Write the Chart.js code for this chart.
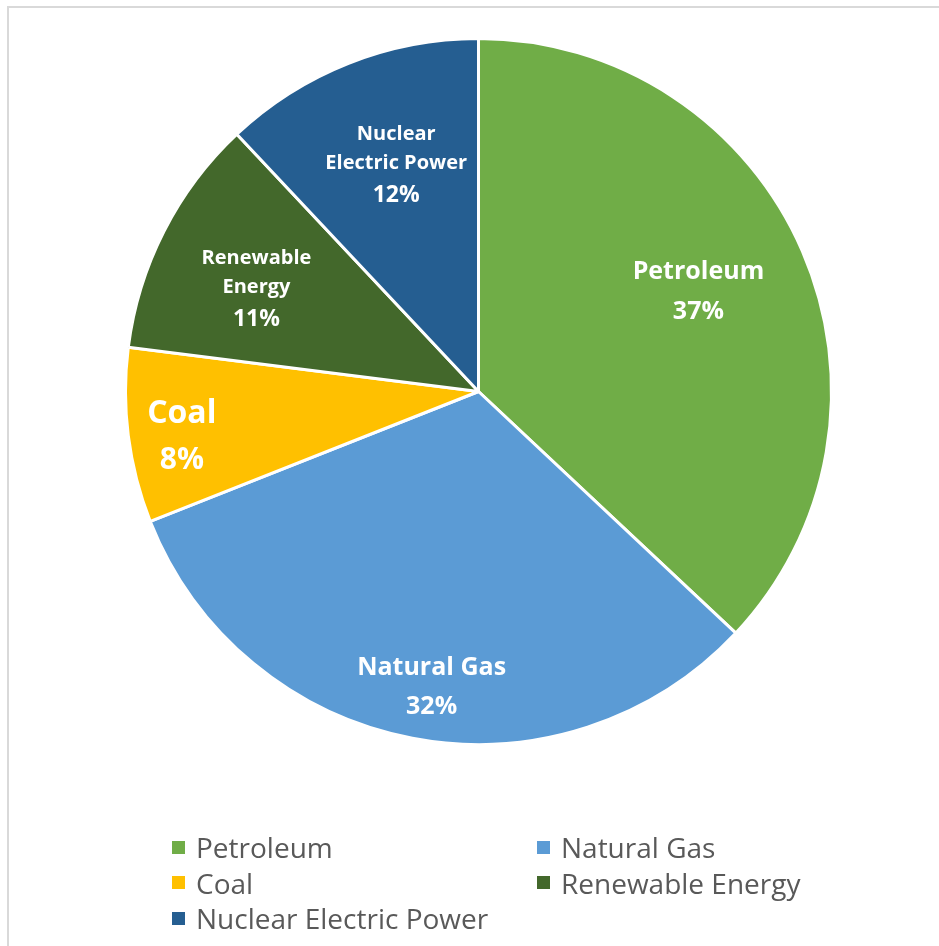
<!DOCTYPE html>
<html>
<head>
<meta charset="utf-8">
<script src="https://cdn.jsdelivr.net/npm/chart.js@4"></script>
<style>
  html, body { margin: 0; padding: 0; background: #fff; }
  body { width: 939px; height: 946px; overflow: hidden; position: relative; }
  #frame {
    position: absolute; left: 7px; top: 6px;
    width: 1000px; height: 1000px;
    border: 2px solid #d9d9d9; box-sizing: border-box;
  }
  #wrap { position: absolute; left: 0; top: 0; width: 939px; height: 946px; }
  #legend {
    position: absolute; left: 172px; top: 828px;
    font-family: "Open Sans", sans-serif; font-size: 28px; color: #595959;
  }
  .item { position: absolute; white-space: nowrap; display: flex; align-items: center; height: 38px; }
  .box { width: 13px; height: 13px; margin-right: 11px; }
</style>
</head>
<body>
<div id="frame"></div>
<div id="wrap"><canvas id="chart_one"></canvas></div>
<div id="legend"></div>
<script>
// energy sources, share of total consumption (%)
const sources = ["Petroleum", "Natural Gas", "Coal", "Renewable Energy", "Nuclear Electric Power"];
const shares = [37, 32, 8, 11, 12];
const colors = ["#70ad47", "#5b9bd5", "#ffc000", "#43682b", "#255e91"];
// how each slice name is broken over lines inside the pie
const sliceLines = [["Petroleum"], ["Natural Gas"], ["Coal"], ["Renewable", "Energy"], ["Nuclear", "Electric Power"]];

// label placement: fraction of radius, nudge, name font size, percent font size, line steps
const labelStyle = [
    { frac: 0.685, dx: -2, dy: -4, size: 25, pctSize: 25, steps: [40] },
    { frac: 0.845, dx: 9, dy: 3, size: 25, pctSize: 25, steps: [39] },
    { frac: 0.85, dx: 1, dy: 8, size: 32, pctSize: 30, steps: [46] },
    { frac: 0.69, dx: -5, dy: 8, size: 20, pctSize: 23, steps: [29, 33] },
    { frac: 0.687, dx: 7, dy: -1, size: 20, pctSize: 23, steps: [29, 32] }
];

const sliceLabels = {
    id: "sliceLabels",
    afterDatasetsDraw(chart) {
        const ctx = chart.ctx;
        const arcs = chart.getDatasetMeta(0).data;
        arcs.forEach((arc, i) => {
            const p = arc.getProps(["x", "y", "startAngle", "endAngle", "outerRadius"], true);
            const mid = (p.startAngle + p.endAngle) / 2;
            const st = labelStyle[i];
            const cx = p.x + Math.cos(mid) * p.outerRadius * st.frac + st.dx;
            const cy = p.y + Math.sin(mid) * p.outerRadius * st.frac + st.dy;

            let lines = sliceLines[i].map(t => ({ text: t, size: st.size }));
            lines.push({ text: shares[i] + "%", size: st.pctSize });

            let total = st.steps.reduce((a, b) => a + b, 0);
            let y = cy - total / 2;

            ctx.save();
            ctx.fillStyle = "#ffffff";
            ctx.textAlign = "center";
            ctx.textBaseline = "middle";
            lines.forEach((ln, k) => {
                ctx.font = "bold " + ln.size + "px 'Open Sans'";
                ctx.fillText(ln.text, cx, y);
                if (k < st.steps.length) y += st.steps[k];
            });
            ctx.restore();
        });
    }
};

var ChartOne = new Chart("chart_one", {
    type: "pie",
    data: {
        labels: sources,
        datasets: [{
            data: shares,
            backgroundColor: colors,
            borderColor: "#ffffff",
            borderWidth: 3,
            hoverOffset: 0
        }]
    },
    options: {
        responsive: true,
        maintainAspectRatio: false,
        animation: false,
        radius: 353,
        layout: { padding: { left: 118, right: 100, top: 30, bottom: 193 } },
        plugins: {
            legend: { display: false },
            tooltip: { enabled: false }
        }
    },
    plugins: [sliceLabels]
});

// legend in two columns under the pie
const legendEl = document.getElementById("legend");
sources.forEach((name, i) => {
    const item = document.createElement("div");
    item.className = "item";
    item.style.left = (i % 2) * 365 + "px";
    item.style.top = Math.floor(i / 2) * 35.5 + "px";
    item.innerHTML = '<span class="box" style="background:' + colors[i] + '"></span>' + name;
    legendEl.appendChild(item);
});
</script>
</body>
</html>
